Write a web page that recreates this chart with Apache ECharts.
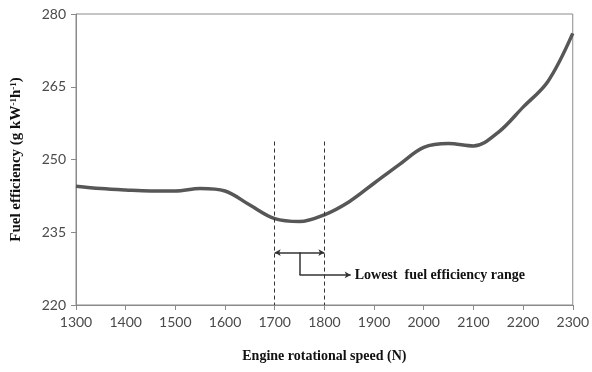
<!DOCTYPE html>
<html>
<head>
<meta charset="utf-8">
<script src="https://cdn.jsdelivr.net/npm/echarts@6/dist/echarts.min.js"></script>
<style>
html,body{margin:0;padding:0;background:#fff;}
#main{width:592px;height:372px;}
</style>
</head>
<body>
<div id="main"></div>
<script>
// engine speed (N) and fuel efficiency
var speeds = [1300,1350,1400,1450,1500,1550,1600,1650,1700,1750,1800,1850,1900,1950,2000,2050,2100,2150,2200,2250,2300];
var fuel   = [244.5,244.0,243.7,243.5,243.5,244.0,243.5,240.6,237.8,237.2,238.6,241.3,245.1,248.9,252.5,253.3,252.8,255.6,260.8,266.1,276.0];
// annotation: lowest range bounds and arrow positions (data units)
var rangeBounds = [1700,1800];
var rangeTop = 253.7;
var arrowY = 230.8;
var elbowX = 1750, elbowY = 226.2, elbowEnd = 1853;
var noteText = 'Lowest  fuel efficiency range';

var seriesData = [];
for(var i=0;i<speeds.length;i++){
	seriesData.push([speeds[i],fuel[i]]);
}

var axisGray = '#8a8a8a';
var labelFont = 'Lato, "Open Sans", sans-serif';
var titleFont = '"Liberation Serif", "DejaVu Serif", serif';

var myChart = echarts.init(document.getElementById('main'));
var option = {
	animation:false,
	grid:{
		left:76,
		right:18,
		top:14,
		bottom:67,
		show:true,
		borderColor:axisGray,
		borderWidth:1
	},
	xAxis:{
		type:'value',
		min:1300,
		max:2300,
		interval:100,
		name:'Engine rotational speed (N)',
		nameLocation:'middle',
		nameGap:44,
		nameTextStyle:{fontFamily:titleFont,fontWeight:'bold',fontSize:14,color:'#111'},
		axisLine:{lineStyle:{color:axisGray}},
		axisTick:{show:true,length:5,lineStyle:{color:axisGray}},
		axisLabel:{fontFamily:labelFont,fontSize:14,color:'#4a4a4a',margin:10,formatter:function(v){return String(v);}},
		splitLine:{show:false}
	},
	yAxis:{
		type:'value',
		min:220,
		max:280,
		interval:15,
		name:'{t|Fuel efficiency (g kW}{s|-1}{t|h}{s|-1}{t|)}',
		nameLocation:'middle',
		nameRotate:90,
		nameGap:52,
		nameTextStyle:{
			rich:{
				t:{fontFamily:titleFont,fontWeight:'bold',fontSize:15,color:'#111'},
				s:{fontFamily:titleFont,fontWeight:'bold',fontSize:9,color:'#111',verticalAlign:'top',padding:[0,0,6,0]}
			}
		},
		axisLine:{show:true,lineStyle:{color:axisGray}},
		axisTick:{show:true,length:5,lineStyle:{color:axisGray}},
		axisLabel:{fontFamily:labelFont,fontSize:14,color:'#4a4a4a',margin:10},
		splitLine:{show:false}
	},
	series:[{
		type:'line',
		data:seriesData,
		smooth:0.35,
		showSymbol:false,
		symbol:'none',
		lineStyle:{color:'#575757',width:3.5},
		markLine:{
			silent:true,
			symbol:'none',
			animation:false,
			label:{show:false},
			data:[
				[{coord:[rangeBounds[0],rangeTop],lineStyle:{type:[4,3],color:'#333',width:1}},{coord:[rangeBounds[0],220]}],
				[{coord:[rangeBounds[1],rangeTop],lineStyle:{type:[4,3],color:'#333',width:1}},{coord:[rangeBounds[1],220]}],
				[{coord:[rangeBounds[0],arrowY],symbol:'arrow',symbolSize:[5,6],lineStyle:{type:'solid',color:'#333',width:1.5}},{coord:[rangeBounds[1],arrowY],symbol:'arrow',symbolSize:[5,6]}],
				[{coord:[elbowX,arrowY],symbol:'none',lineStyle:{type:'solid',color:'#333',width:1.5}},{coord:[elbowX,elbowY],symbol:'none'}],
				[{coord:[elbowX,elbowY],symbol:'none',lineStyle:{type:'solid',color:'#333',width:1.5}},{coord:[elbowEnd,elbowY],symbol:'arrow',symbolSize:[5,6],
					label:{show:true,position:'end',formatter:noteText,fontFamily:titleFont,fontWeight:'bold',fontSize:14,color:'#111',distance:4}}]
			]
		}
	}]
};
myChart.setOption(option);
</script>
</body>
</html>
